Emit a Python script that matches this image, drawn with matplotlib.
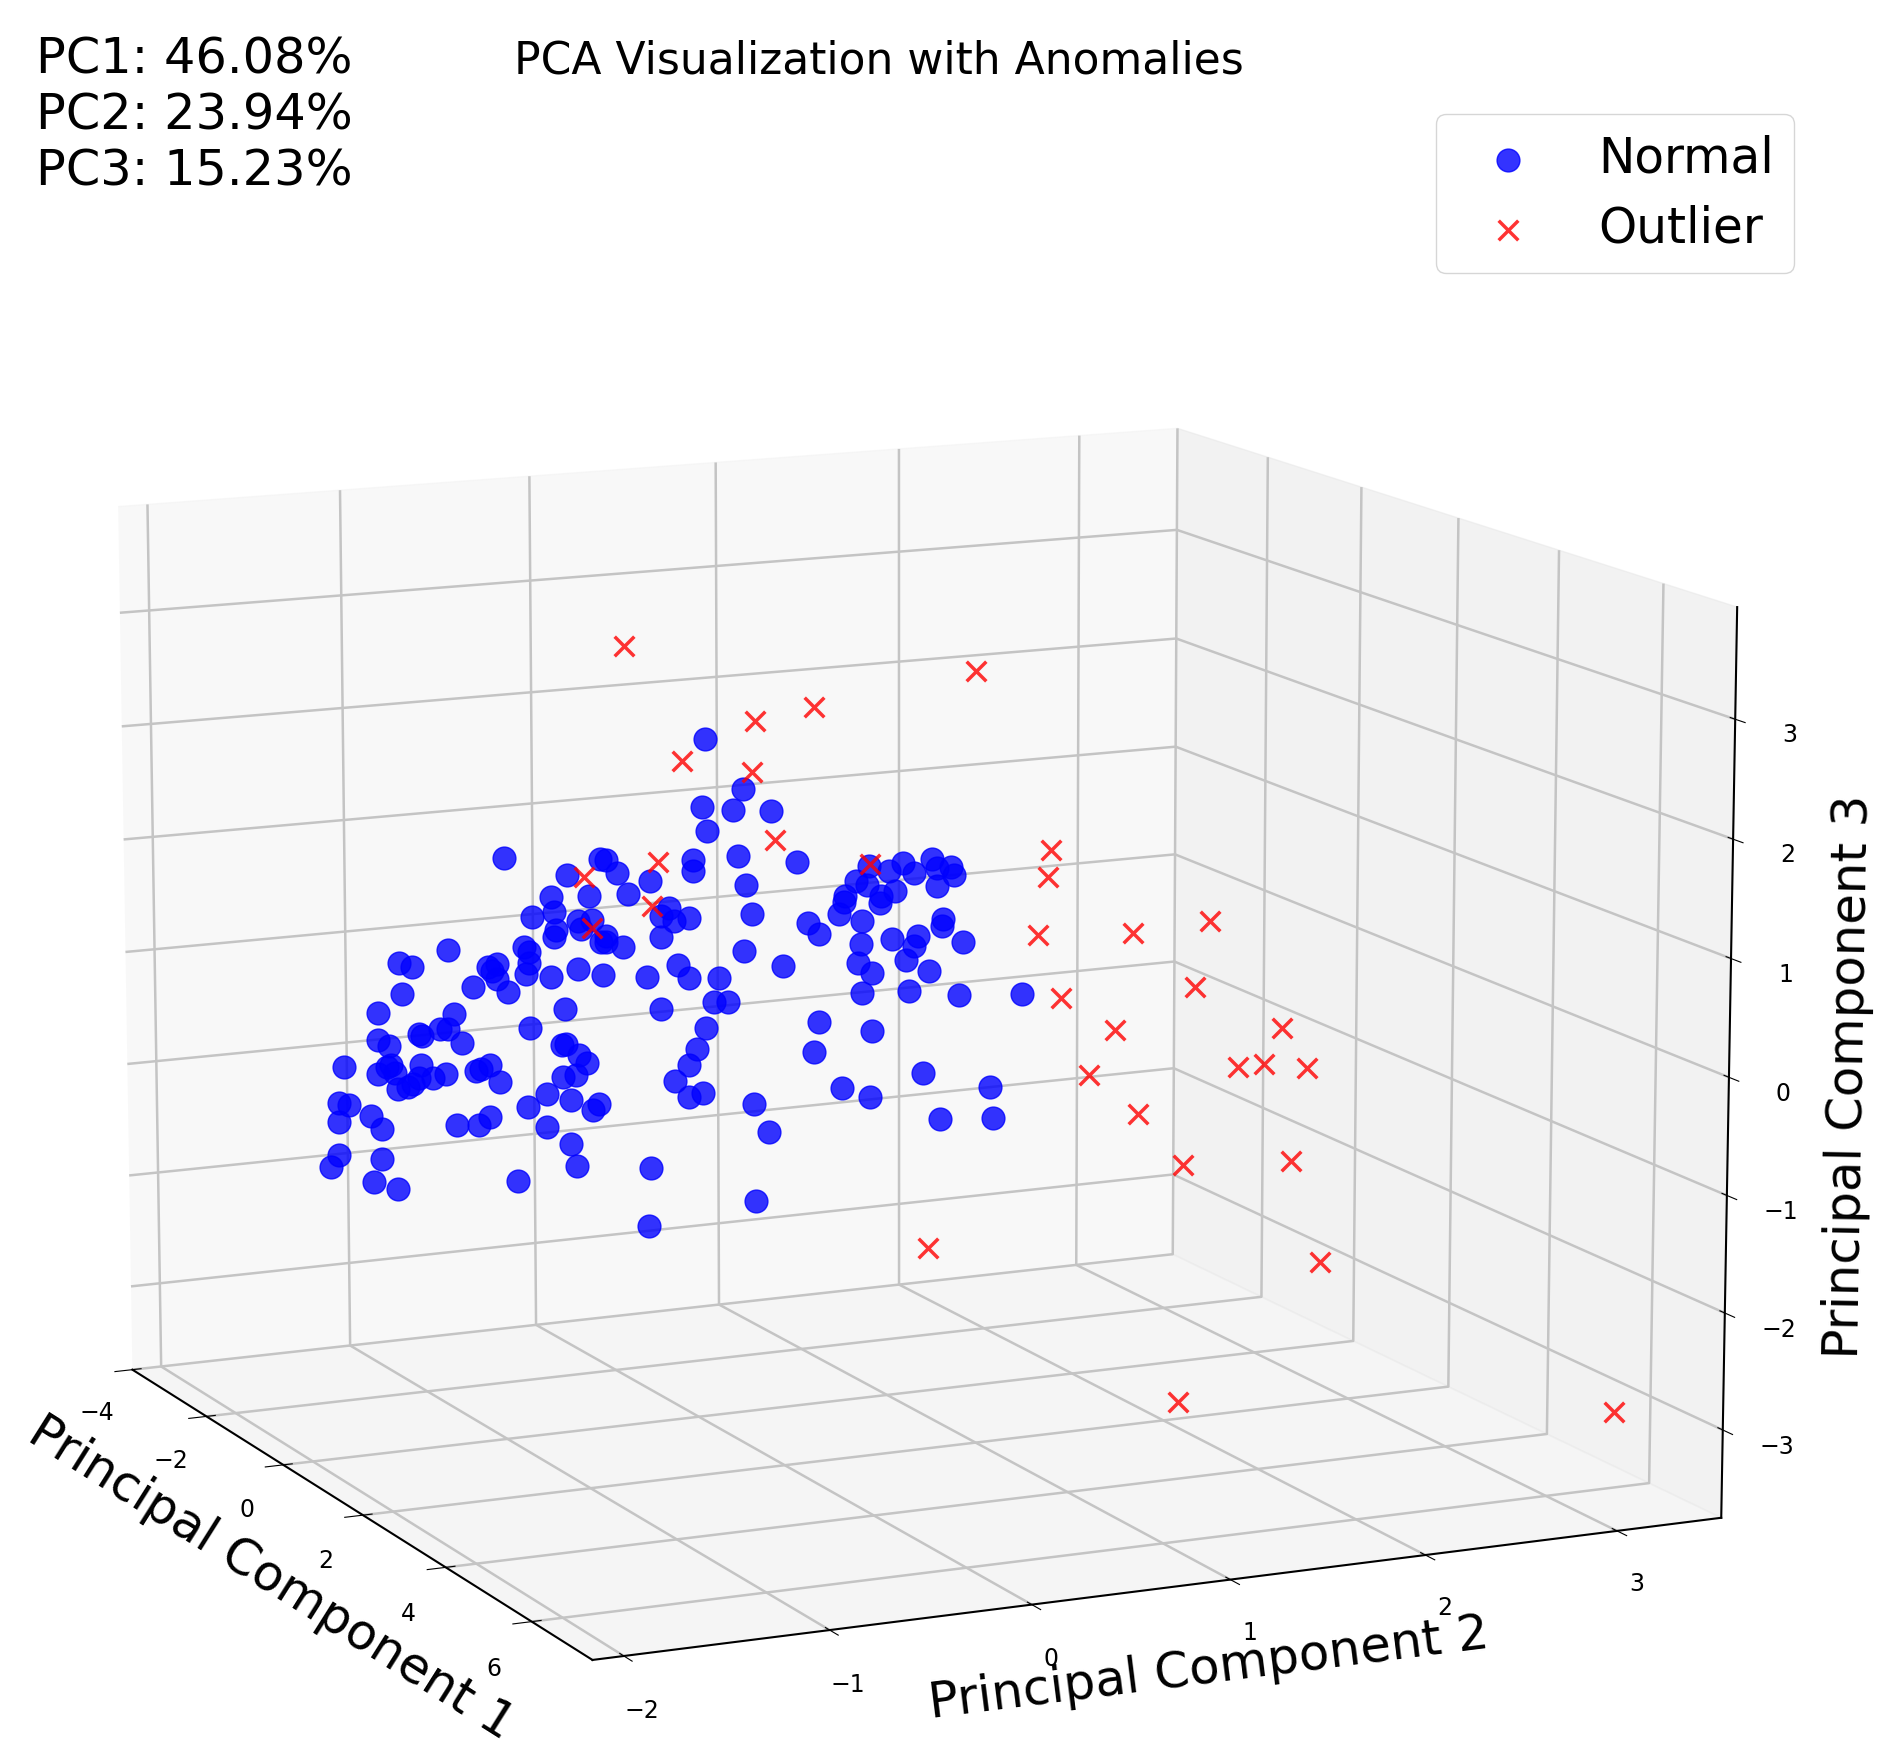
import matplotlib
matplotlib.use('Agg')
import matplotlib.pyplot as plt

normal_pc1 = [0.30, 0.56, 0.27, 0.49, 0.76, 0.30, -1.15, -0.46, -0.42, -0.71, -0.34, -0.11, 0.20, 0.20, 0.52, 0.58, -0.81, -0.54, -0.26, -0.80, -0.96, -0.52, -0.63, -0.61, 0.03, -0.02, 0.06, 0.17, 0.63, -0.79, -0.80, -0.42, -0.46, -0.43, -0.30,
              -0.03, -1.02, -0.99, -0.98, -1.01, -1.57, -1.93, -1.83, -1.21, -1.28, -1.25, -1.22, -1.14, -1.39, -0.82, -0.63, -0.45, -0.13, 0.09, 0.17, 0.39, 0.57, 0.84, -1.92, -0.72, -0.04, 0.35, 0.45, -2.09, -1.53, -1.79, -1.76, -1.64, -1.58, -1.48,
              -0.98, 0.29, -2.10, -2.02, -2.34, -0.72, -0.75, -0.63, -0.57, 0.22, 0.17, 0.07, 0.27, 0.17, -1.78, -2.02, -2.00, -2.09, -1.97, -1.95, -1.88, -1.84, -1.79, -1.69, -1.59, -1.38, -1.33, -1.27, -1.20, -0.74, -0.65, -0.85, -0.68, -1.00, -0.48,
              -0.52, 0.64, -2.38, -2.31, -2.39, -2.15, -2.07, -1.51, -1.36, -1.28, -0.87, 0.74, -0.69, -2.40, -2.45, -2.07, -0.64, -0.11, -1.07, -2.13, -1.96, 0.65, -0.12, 0.94, 1.45, 1.37, 1.44, 1.59, 1.70, 1.77, 1.90, 1.94, 2.02, 2.05, 1.94,
              1.64, 1.54, 1.53, 1.29, 1.27, 1.25, 1.41, 1.01, 1.10, 1.98, 1.97, 1.62, 1.80, 1.77, 2.12, 1.40, 1.38, 1.47, 1.71, 1.88, 1.41, 1.73, 2.08, 2.53, 1.10, 1.47, 1.07, 1.84, 1.26, 1.47, 2.31, 1.95, 2.33]
normal_pc2 = [-0.02, 0.12, -0.03, 0.08, 0.22, -0.01, -0.75, -0.40, -0.38, -0.52, -0.34, -0.22, -0.06, -0.06, 0.10, 0.13, -0.58, -0.44, -0.30, -0.57, -0.65, -0.43, -0.48, -0.47, -0.15, -0.18, -0.13, -0.08, 0.15, -0.56, -0.57, -0.38, -0.40, -0.38, -0.32,
              -0.18, -0.68, -0.66, -0.66, -0.67, -0.96, -1.14, -1.09, -0.78, -0.81, -0.80, -0.78, -0.74, -0.87, -0.58, -0.48, -0.39, -0.23, -0.12, -0.08, 0.03, 0.12, 0.26, -1.13, -0.53, -0.18, 0.01, 0.06, -1.22, -0.94, -1.07, -1.06, -0.99, -0.96, -0.91,
              -0.66, -0.02, -1.22, -1.18, -1.35, -0.53, -0.54, -0.48, -0.45, -0.05, -0.08, -0.13, -0.03, -0.08, -1.06, -1.19, -1.17, -1.22, -1.16, -1.15, -1.11, -1.09, -1.07, -1.02, -0.97, -0.86, -0.84, -0.81, -0.77, -0.54, -0.49, -0.60, -0.51, -0.67, -0.41,
              -0.43, 0.15, -1.37, -1.33, -1.37, -1.25, -1.21, -0.93, -0.85, -0.81, -0.60, 0.21, -0.51, -1.37, -1.40, -1.21, -0.49, -0.22, -0.71, -1.24, -1.15, 0.16, -0.23, 0.31, 0.57, 0.52, 0.56, 0.64, 0.69, 0.73, 0.79, 0.81, 0.86, 0.87, 0.81,
              0.66, 0.61, 0.61, 0.48, 0.48, 0.46, 0.54, 0.35, 0.39, 0.83, 0.83, 0.65, 0.74, 0.73, 0.90, 0.54, 0.53, 0.58, 0.70, 0.78, 0.54, 0.71, 0.89, 1.11, 0.39, 0.58, 0.37, 0.76, 0.47, 0.57, 1.00, 0.82, 1.01]
normal_pc3 = [2.25, 1.84, 1.66, 1.65, 1.67, 1.45, 1.09, 1.14, 1.14, 0.98, 1.03, 0.98, 1.19, 1.10, 1.26, 1.01, 0.78, 0.81, 0.86, 0.65, 0.59, 0.61, 0.59, 0.52, 0.76, 0.69, 0.65, 0.69, 0.76, 0.49, 0.43, 0.48, 0.42, 0.42, 0.39,
              0.50, 0.32, 0.28, 0.19, 0.09, 0.25, 0.10, 0.07, 0.16, 0.12, 0.09, 0.02, -0.08, -0.06, 0.08, 0.17, 0.13, 0.14, 0.27, 0.16, 0.18, 0.44, 0.33, -0.17, -0.19, -0.13, -0.03, -0.02, -0.36, -0.31, -0.51, -0.53, -0.46, -0.45, -0.56,
              -0.38, -0.26, -0.60, -0.64, -0.86, -0.50, -0.51, -0.59, -0.65, -0.45, -0.60, -0.75, -0.83, -0.88, -0.79, -0.83, -0.81, -0.90, -0.88, -1.02, -0.99, -0.96, -0.90, -0.89, -0.85, -0.80, -0.78, -0.74, -0.88, -0.79, -0.77, -0.95, -0.99, -1.08, -1.00,
              -1.06, -0.89, -1.18, -1.19, -1.35, -1.28, -1.38, -1.29, -1.28, -1.20, -1.25, -1.13, -1.38, -1.65, -1.76, -1.65, -1.57, -1.53, -1.74, -1.86, -1.91, -1.74, -2.04, 1.24, 1.25, 1.12, 1.09, 1.22, 1.30, 1.22, 1.35, 1.28, 1.29, 1.23, 1.12,
              1.05, 1.00, 0.94, 0.98, 0.92, 0.82, 0.77, 0.72, 0.63, 0.84, 0.78, 0.64, 0.68, 0.59, 0.66, 0.57, 0.41, 0.33, 0.46, 0.38, 0.15, 0.20, 0.19, 0.25, -0.13, -0.18, -0.40, -0.50, -0.69, -0.75, -0.58, -0.89, -0.85]

outlier_pc1 = [-0.28, 2.20, 1.07, 0.65, 0.12, 0.63, 0.79, -0.05, -0.58, -0.09, -0.52, 1.46, 2.73, 2.71, 2.64, 3.30, 3.83, 3.73, 2.81, 3.18, 4.34, 4.03, 4.22, 4.51, 3.00, 3.34, 3.66, 4.40, 1.87, 4.62, 3.63, 6.64]
outlier_pc2 = [-0.31, 0.95, 0.37, 0.16, -0.10, 0.15, 0.23, -0.19, -0.46, -0.21, -0.43, 0.57, 1.21, 1.20, 1.17, 1.50, 1.77, 1.72, 1.25, 1.44, 2.02, 1.87, 1.96, 2.11, 1.35, 1.52, 1.68, 2.06, 0.78, 2.16, 1.67, 3.18]
outlier_pc3 = [3.01, 2.99, 2.59, 2.43, 2.04, 1.99, 1.42, 1.15, 0.98, 0.77, 0.54, 1.27, 1.50, 1.27, 0.76, 0.84, 0.99, 0.42, 0.24, 0.00, 0.13, -0.24, -0.19, -0.20, -0.41, -0.71, -1.12, -1.01, -2.03, -1.86, -3.18, -2.93]

x_ticks = [-4, -2, 0, 2, 4, 6]
y_ticks = [-2, -1, 0, 1, 2, 3]
z_ticks = [-3, -2, -1, 0, 1, 2, 3]
variance_text = 'PC1: 46.08%\nPC2: 23.94%\nPC3: 15.23%'

W, H = 1889, 1759
plt.rcParams['grid.linewidth'] = 1.8
plt.rcParams['grid.color'] = '#c4c4c4'
plt.rcParams['axes.linewidth'] = 1.5

fig = plt.figure(figsize=(W / 100, H / 100), dpi=100)
side = 1876.62
ax = fig.add_axes([(879.3 - side / 2) / W, (730.95 - side / 2) / H, side / W, side / H], projection='3d')
ax.computed_zorder = False
ax.view_init(elev=12.2255, azim=-24.9419)
ax.set_proj_type('persp', focal_length=1.0079)
ax.set_box_aspect((1.004, 1, 0.7526))

ax.scatter(normal_pc1, normal_pc2, normal_pc3, c='blue', marker='o', s=270, alpha=0.8, depthshade=False, label='Normal', zorder=1)
ax.scatter(outlier_pc1, outlier_pc2, outlier_pc3, c='red', marker='x', s=200, linewidths=2.5, alpha=0.8, depthshade=False, label='Outlier', zorder=2)

ax.set_xlim3d(-4.0, 7.3677, view_margin=0)
ax.set_ylim3d(-2.1509, 3.5512, view_margin=0)
ax.set_zlim3d(-3.7538, 3.9303, view_margin=0)
ax.set_xticks(x_ticks)
ax.set_yticks(y_ticks)
ax.set_zticks(z_ticks)
ax.tick_params(labelsize=17)
ax.tick_params(axis='x', pad=15)
ax.tick_params(axis='y', pad=16)
ax.tick_params(axis='z', pad=14.5)
ax.set_xlabel('Principal Component 1', fontsize=35.8, labelpad=28)
ax.set_ylabel('Principal Component 2', fontsize=35.8, labelpad=26)
ax.set_zlabel('Principal Component 3', fontsize=35.8, labelpad=28.5)

fig.text(879 / W, 1 - 61 / H, 'PCA Visualization with Anomalies', fontsize=31.7, ha='center', va='center')
fig.text(36 / W, 1 - 36 / H, variance_text, fontsize=35.6, ha='left', va='top', linespacing=1.2)
fig.legend(*ax.get_legend_handles_labels(), loc='upper right', bbox_to_anchor=(1794 / W, 1 - 114 / H), borderaxespad=0,
           fontsize=35, handletextpad=0.8, handlelength=2.1, labelspacing=0.45, borderpad=0.42)

fig.savefig('out.png', dpi=100)
